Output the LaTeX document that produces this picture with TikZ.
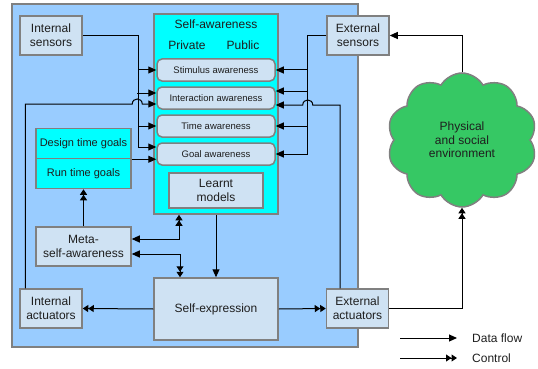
\documentclass[tikz,border=0pt]{standalone}
\usepackage{fontspec}
\setmainfont{Liberation Sans}
\usetikzlibrary{arrows.meta,shapes.symbols,calc}
\definecolor{bgblue}{RGB}{153,204,255}
\definecolor{boxblue}{RGB}{207,226,243}
\definecolor{cyanbox}{RGB}{0,255,255}
\definecolor{envgreen}{RGB}{54,200,100}
\definecolor{bordergray}{RGB}{128,128,128}
\definecolor{txt}{RGB}{30,30,30}
\begin{document}
\begin{tikzpicture}[x=1pt,y=-1pt,
  box/.style={draw=bordergray, line width=1.5pt, fill=boxblue, align=center, text=txt, font=\fontsize{12}{14}\selectfont, inner sep=0pt},
  aw/.style={box, rounded corners=5pt, font=\fontsize{9.5}{11}\selectfont, minimum width=118pt, minimum height=22pt},
  goalbox/.style={draw=bordergray, line width=1.5pt, fill=cyanbox, text=txt, font=\fontsize{11}{13}\selectfont, minimum width=95pt, minimum height=30pt, inner sep=0pt},
  lbl/.style={inner sep=0pt, text=txt, font=\fontsize{12}{14}\selectfont},
  conn/.style={draw=black, line width=1pt},
  dtip/.tip={Triangle[length=8pt,width=7pt]},
  ctip/.tip={Triangle[length=5.5pt,width=7pt]Triangle[length=5.5pt,width=7pt]},
  data/.style={conn, -dtip},
  ctrl/.style={conn, -ctip},
  bidc/.style={conn, dtip-ctip},
]
\useasboundingbox (0,0) rectangle (538,369);
% containers
\node[draw=bordergray, line width=1.5pt, fill=bgblue, minimum width=346pt, minimum height=343pt] (outer) at (185,175.5) {};
\node[draw=bordergray, line width=1.5pt, fill=cyanbox, minimum width=124pt, minimum height=200pt] (sa) at (216,114) {};
\node[lbl] (satitle) at (216,24) {Self-awareness};
\node[lbl] (priv) at (187,45) {Private};
\node[lbl] (publ) at (243,45) {Public};
% awareness levels
\node[aw] (stim) at (216,70) {Stimulus awareness};
\node[aw] (inter) at (216,98) {Interaction awareness};
\node[aw] (time) at (216,126) {Time awareness};
\node[aw] (goal) at (216,154) {Goal awareness};
\node[box, minimum width=94pt, minimum height=35pt] (lm) at (216,190.5) {Learnt\\models};
% other boxes
\node[box, minimum width=62pt, minimum height=39pt] (is) at (51,35.5) {Internal\\sensors};
\node[box, minimum width=62pt, minimum height=39pt] (es) at (358,35.5) {External\\sensors};
\node[goalbox] (dg) at (83.5,143.5) {Design time goals};
\node[goalbox] (rg) at (83.5,173.5) {Run time goals};
\node[box, minimum width=95pt, minimum height=39pt] (meta) at (83.5,246.5) {Meta-\\self-awareness};
\node[box, minimum width=62pt, minimum height=39pt] (ia) at (51,308.5) {Internal\\actuators};
\node[box, minimum width=124pt, minimum height=62pt] (se) at (216,309) {Self-expression};
\node[box, minimum width=62pt, minimum height=39pt] (ea) at (357.5,308.5) {External\\actuators};
\node[cloud, cloud puffs=10, cloud puff arc=120, aspect=1.1, minimum width=150pt, minimum height=134pt,
      draw=bordergray, line width=1.5pt, fill=envgreen, align=center, text=txt,
      font=\fontsize{12}{13.5}\selectfont] (env) at (462,140) {Physical\\and social\\environment};
% left bus
\coordinate (ib) at (138,35.5);
\draw[data] (is.east) -- (ib) |- ($(goal.west)+(0,-7)$);
\draw[data] (ib |- stim.west) -- (stim.west);
\draw[data] ($(inter.west)+(-19,-5)$) -- ($(inter.west)+(0,-5)$);
\draw[data] (ib |- time.west) -- (time.west);
\draw[data] (dg.south east) -- (dg.south east -| goal.west);
\draw[data] ($(ia.north west)+(6,0)$) |- ($(inter.west)+(-24,6)$)
   .. controls +(0,-6.7) and +(0,-6.7) .. ($(inter.west)+(-14,6)$) -- ($(inter.west)+(0,6)$);
% right bus
\coordinate (eb) at (307,35.5);
\draw[data] (es.west) -- (eb) |- (goal.east);
\draw[data] (eb |- stim.east) -- (stim.east);
\draw[data] ($(inter.east)+(32,-7)$) -- ($(inter.east)+(0,-7)$);
\draw[data] (eb |- time.east) -- (time.east);
\draw[data] ($(ea.north)+(-17.5,0)$) |- ($(inter.east)+(37,7)$)
   .. controls +(0,-6.7) and +(0,-6.7) .. ($(inter.east)+(27,7)$) -- ($(inter.east)+(0,7)$);
% middle
\draw[bidc] ($(meta.east)+(0,-7.5)$) -| ($(sa.south)+(-37,0)$);
\draw[bidc] ($(meta.east)+(0,7.5)$) -| ($(se.north)+(-36,0)$);
\draw[data] (sa.south) -- (se.north);
\draw[ctrl] (meta.north) -- (rg.south);
\draw[ctrl] (se.west) -- (ia.east);
\draw[ctrl] (se.east) -- (ea.west);
\draw[ctrl] (ea.east) -| (env.south);
\draw[data] (env.north) |- (es.east);
% legend
\coordinate (d1) at (400,338);
\coordinate (d2) at (457,338);
\coordinate (c1) at (400,358);
\coordinate (c2) at (457,358);
\draw[data] (d1) -- (d2);
\draw[ctrl] (c1) -- (c2);
\node[lbl, anchor=west] (dl) at (472,338) {Data flow};
\node[lbl, anchor=west] (cl) at (472,358) {Control};
\end{tikzpicture}
\end{document}
